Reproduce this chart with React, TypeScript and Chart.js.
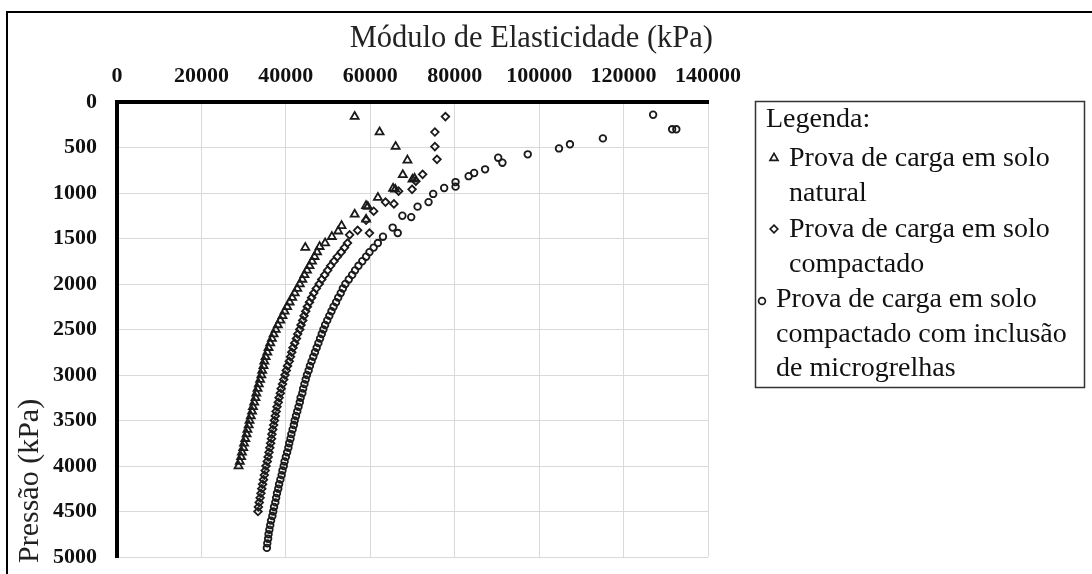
import React, { useEffect, useRef } from "react";
import { Chart, registerables } from "chart.js";

Chart.register(...registerables);

// ---------- text ----------
const xAxisTitle = "Módulo de Elasticidade (kPa)";
const yAxisTitle = "Pressão (kPa)";
const legendHeading = "Legenda:";
const seriesNames = [
  ["Prova de carga em solo", "natural"],
  ["Prova de carga em solo", "compactado"],
  ["Prova de carga em solo", "compactado com inclusão", "de microgrelhas"],
];

// ---------- ticks ----------
const xTickValues = [0, 20000, 40000, 60000, 80000, 100000, 120000, 140000];
const yTickValues = [0, 500, 1000, 1500, 2000, 2500, 3000, 3500, 4000, 4500, 5000];

// ---------- series 1: solo natural (triangles) ----------
const naturalPressure = [
  160, 330, 490, 640, 800, 840, 850, 950, 960, 1050, 1140, 1150, 1235, 1290, 1360, 1420, 1480, 1550, 1590, 1600,
  1650, 1700, 1750, 1800, 1850, 1900, 1950, 2000, 2050, 2100,
  2150, 2200, 2250, 2300, 2350, 2400, 2450, 2500, 2550, 2600,
  2650, 2700, 2750, 2800, 2850, 2900, 2950, 3000, 3050, 3100,
  3150, 3200, 3250, 3300, 3350, 3400, 3450, 3500, 3550, 3600,
  3650, 3700, 3750, 3800, 3850, 3900, 3950, 4000,
];
const naturalModulus = [
  56300, 62200, 66000, 68800, 67700, 70500, 70000, 65400, 65900, 61800, 59000, 59400, 56300, 59000, 53200, 52400, 50900, 49300, 48000, 44600,
  47400, 46800, 46200, 45600, 45000, 44400, 43900, 43300, 42700, 42100,
  41500, 40900, 40300, 39700, 39200, 38700, 38100, 37600, 37100, 36700,
  36300, 35900, 35600, 35200, 34900, 34700, 34400, 34200, 33900, 33600,
  33300, 33000, 32800, 32500, 32200, 32000, 31700, 31400, 31200, 30900,
  30700, 30400, 30100, 29900, 29600, 29400, 29100, 28800,
];

// ---------- series 2: solo compactado (diamonds) ----------
const compactPressure = [
  160, 330, 490, 630, 795, 870, 960, 980, 1100, 1120, 1200, 1300, 1410, 1440, 1460,
  1550, 1600, 1650, 1700, 1750, 1800, 1850, 1900, 1950, 2000,
  2050, 2100, 2150, 2200, 2250, 2300, 2350, 2400, 2450, 2500,
  2550, 2600, 2650, 2700, 2750, 2800, 2850, 2900, 2950, 3000,
  3050, 3100, 3150, 3200, 3250, 3300, 3350, 3400, 3450, 3500,
  3550, 3600, 3650, 3700, 3750, 3800, 3850, 3900, 3950, 4000,
  4050, 4100, 4150, 4200, 4250, 4300, 4350, 4400, 4450, 4500,
];
const compactModulus = [
  77800, 75300, 75300, 75800, 72400, 70800, 69900, 66700, 63600, 65600, 60800, 59000, 57000, 59800, 55100,
  54600, 53900, 53100, 52200, 51400, 50600, 49900, 49200, 48500, 47900,
  47200, 46600, 46100, 45600, 45100, 44700, 44300, 44000, 43600, 43300,
  42800, 42500, 42100, 41700, 41400, 41100, 40800, 40400, 40100, 39800,
  39500, 39200, 38900, 38700, 38400, 38200, 37900, 37700, 37500, 37300,
  37100, 36900, 36700, 36600, 36400, 36200, 36000, 35800, 35600, 35300,
  35100, 34900, 34700, 34500, 34300, 34100, 33900, 33700, 33500, 33400,
];

// ---------- series 3: compactado com microgrelhas (circles) ----------
const gridPressure = [
  140, 300, 300, 400, 465, 510, 575, 612, 667, 740, 780, 815, 880, 930, 945, 1010, 1100, 1150, 1250, 1265, 1380, 1440, 1480, 1550,
  1600, 1650, 1700, 1750, 1800, 1850, 1900, 1950, 2000, 2050,
  2100, 2150, 2200, 2250, 2300, 2350, 2400, 2450, 2500, 2550,
  2600, 2650, 2700, 2750, 2800, 2850, 2900, 2950, 3000, 3050,
  3100, 3150, 3200, 3250, 3300, 3350, 3400, 3450, 3500, 3550,
  3600, 3650, 3700, 3750, 3800, 3850, 3900, 3950, 4000, 4050,
  4100, 4150, 4200, 4250, 4300, 4350, 4400, 4450, 4500, 4550,
  4600, 4650, 4700, 4750, 4800, 4850, 4900,
];
const gridModulus = [
  127000, 131500, 132500, 115100, 107300, 104700, 97300, 90300, 91300, 87200, 84600, 83300, 80200, 80200, 77500, 74900, 73800, 71200, 67600, 69700, 65300, 66500, 63000, 61800,
  60800, 59800, 59000, 58100, 57200, 56400, 55700, 54900, 54100, 53500,
  53000, 52400, 51900, 51300, 50800, 50300, 49800, 49300, 48900, 48500,
  48100, 47700, 47300, 46900, 46500, 46100, 45700, 45400, 45000, 44700,
  44400, 44100, 43900, 43500, 43300, 43000, 42700, 42400, 42100, 41900,
  41600, 41300, 41100, 40800, 40600, 40300, 40000, 39700, 39500, 39200,
  39000, 38700, 38400, 38200, 37900, 37700, 37500, 37200, 37000, 36800,
  36500, 36300, 36100, 35900, 35800, 35600, 35500,
];

const SERIF = '"Liberation Serif", "Times New Roman", serif';
const INK = "#1a1a1a";

const toPoints = (xs: number[], ys: number[]) => xs.map((x, i) => ({ x, y: ys[i] }));

function drawMarker(ctx: CanvasRenderingContext2D, kind: string, x: number, y: number) {
  ctx.beginPath();
  if (kind === "triangle") {
    const r = 4.6;
    ctx.moveTo(x, y - r);
    ctx.lineTo(x + r * 0.866, y + r * 0.5);
    ctx.lineTo(x - r * 0.866, y + r * 0.5);
    ctx.closePath();
  } else if (kind === "diamond") {
    const r = 3.8;
    ctx.moveTo(x, y - r);
    ctx.lineTo(x + r, y);
    ctx.lineTo(x, y + r);
    ctx.lineTo(x - r, y);
    ctx.closePath();
  } else {
    ctx.arc(x, y, 3.4, 0, Math.PI * 2);
  }
  ctx.stroke();
}

const decorPlugin = {
  id: "decor",
  afterDraw(chart: any) {
    const ctx: CanvasRenderingContext2D = chart.ctx;
    ctx.save();
    // outer frame (top and left)
    ctx.fillStyle = "#000";
    ctx.fillRect(6, 11, 1086, 2);
    ctx.fillRect(6, 11, 2, 563);

    // axis titles
    ctx.fillStyle = "#222";
    ctx.font = `30.5px ${SERIF}`;
    ctx.textAlign = "right";
    ctx.textBaseline = "alphabetic";
    ctx.fillText(xAxisTitle, 713, 47);

    ctx.save();
    ctx.font = `30px ${SERIF}`;
    ctx.translate(38, 563);
    ctx.rotate(-Math.PI / 2);
    ctx.textAlign = "left";
    ctx.fillText(yAxisTitle, 0, 0);
    ctx.restore();

    // legend box
    ctx.strokeStyle = "#333";
    ctx.lineWidth = 1.5;
    ctx.strokeRect(755.5, 101.5, 329, 286);

    ctx.fillStyle = "#111";
    ctx.font = `28px ${SERIF}`;
    ctx.textAlign = "left";
    ctx.fillText(legendHeading, 766, 127);

    const baselines = [
      [166, 201],
      [237, 272],
      [307, 342, 376],
    ];
    const textX = [789, 789, 776];
    const markerPos = [
      [774, 158],
      [774, 229],
      [762, 301],
    ];
    const kinds = ["triangle", "diamond", "circle"];
    ctx.strokeStyle = INK;
    ctx.lineWidth = 1.7;
    seriesNames.forEach((lines, i) => {
      lines.forEach((line, j) => {
        ctx.fillText(line, textX[i], baselines[i][j]);
      });
      drawMarker(ctx, kinds[i], markerPos[i][0], markerPos[i][1]);
    });
    ctx.restore();
  },
};

export default function App() {
  const canvasRef = useRef<HTMLCanvasElement | null>(null);

  useEffect(() => {
    const canvas = canvasRef.current;
    if (!canvas) return;
    const tickFont = { family: SERIF, size: 22, weight: "bold" as const };
    const chart = new Chart(canvas, {
      type: "scatter",
      data: {
        datasets: [
          {
            label: seriesNames[0].join(" "),
            data: toPoints(naturalModulus, naturalPressure),
            pointStyle: "triangle",
            pointRadius: 4.6,
            borderColor: INK,
            backgroundColor: "rgba(0,0,0,0)",
            borderWidth: 1.8,
          },
          {
            label: seriesNames[1].join(" "),
            data: toPoints(compactModulus, compactPressure),
            pointStyle: "rectRot",
            pointRadius: 3.8,
            borderColor: INK,
            backgroundColor: "rgba(0,0,0,0)",
            borderWidth: 1.8,
          },
          {
            label: seriesNames[2].join(" "),
            data: toPoints(gridModulus, gridPressure),
            pointStyle: "circle",
            pointRadius: 3.3,
            borderColor: INK,
            backgroundColor: "rgba(0,0,0,0)",
            borderWidth: 1.8,
          },
        ],
      },
      options: {
        animation: false,
        responsive: false,
        devicePixelRatio: 1,
        layout: { padding: { left: 0, top: 0, right: 384, bottom: 17 } },
        plugins: {
          legend: { display: false },
          tooltip: { enabled: false },
          title: { display: false },
        },
        scales: {
          x: {
            type: "linear",
            position: "top",
            min: 0,
            max: 140000,
            afterBuildTicks: (s: any) => {
              s.ticks = xTickValues.map((value) => ({ value }));
            },
            afterFit: (s: any) => {
              s.height = 102;
              s.paddingLeft = 0;
              s.paddingRight = 0;
            },
            ticks: {
              callback: (v: any) => String(v),
              font: tickFont,
              color: "#111",
              padding: 12,
              maxRotation: 0,
              autoSkip: false,
            },
            grid: { color: "#d9d9d9", lineWidth: 1, drawTicks: false },
            border: { display: true, color: "#000", width: 4 },
          },
          y: {
            type: "linear",
            reverse: true,
            min: 0,
            max: 5000,
            afterBuildTicks: (s: any) => {
              s.ticks = yTickValues.map((value) => ({ value }));
            },
            afterFit: (s: any) => {
              s.width = 117;
              s.paddingTop = 0;
              s.paddingBottom = 0;
            },
            ticks: {
              callback: (v: any) => String(v),
              font: tickFont,
              color: "#111",
              padding: 20,
              autoSkip: false,
            },
            grid: { color: "#d9d9d9", lineWidth: 1, drawTicks: false },
            border: { display: true, color: "#000", width: 4 },
          },
        },
      },
      plugins: [decorPlugin],
    });
    return () => chart.destroy();
  }, []);

  return (
    <div style={{ position: "absolute", left: 0, top: 0, width: 1092, height: 574, background: "#fff" }}>
      <canvas ref={canvasRef} width={1092} height={574} style={{ display: "block" }} />
    </div>
  );
}
